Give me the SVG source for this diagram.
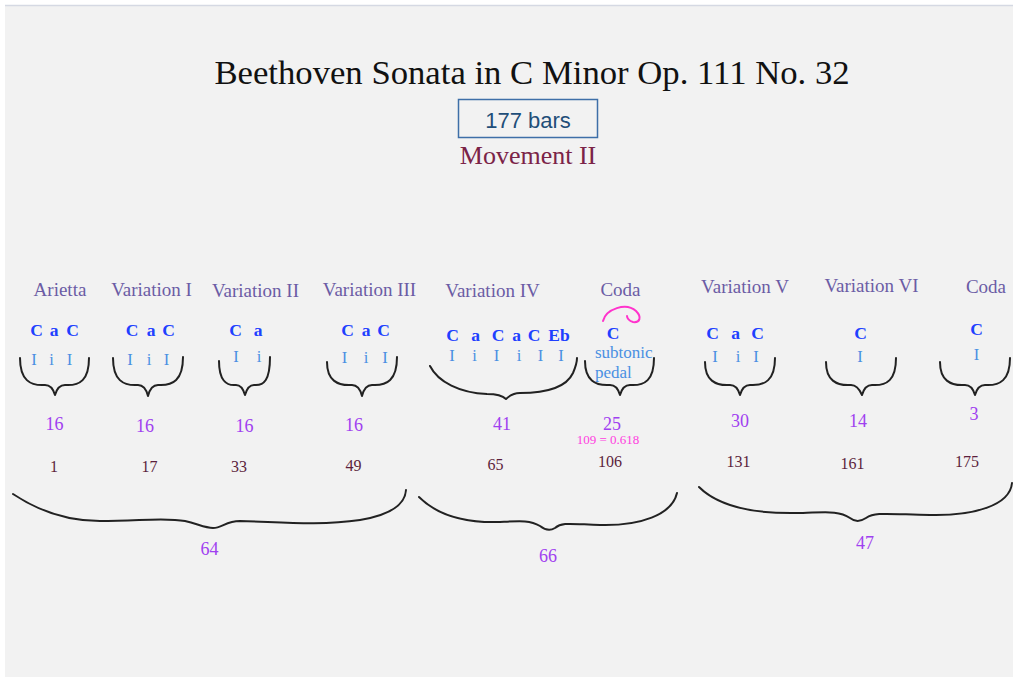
<svg xmlns="http://www.w3.org/2000/svg" width="1016" height="677" viewBox="0 0 1016 677">
<style>
.lbl{font-family:"Liberation Serif",serif;font-size:19px;fill:#6b5ca5;text-anchor:middle}
.ch{font-family:"Liberation Serif",serif;font-size:17.5px;font-weight:bold;fill:#2040ff;text-anchor:middle}
.rn{font-family:"Liberation Serif",serif;font-size:16.5px;fill:#4a90e2;text-anchor:middle}
.len{font-family:"Liberation Serif",serif;font-size:18px;fill:#a040f0;text-anchor:middle}
.bar{font-family:"Liberation Serif",serif;font-size:16px;fill:#5c1f3c;text-anchor:middle}
.br{fill:none;stroke:#222;stroke-width:2;stroke-linecap:round;stroke-linejoin:round}
</style>
<rect x="0" y="0" width="1016" height="677" fill="#ffffff"/>
<rect x="5" y="5" width="1008" height="672" fill="#f2f2f2"/>
<line x1="5" y1="5.5" x2="1013" y2="5.5" stroke="#d5d9e3" stroke-width="1.5"/>

<g id="header">
<text x="532" y="84" font-family="'Liberation Serif',serif" font-size="34.7" fill="#111" text-anchor="middle">Beethoven Sonata in C Minor Op. 111 No. 32</text>
<rect x="458.5" y="99.5" width="139" height="38" fill="none" stroke="#3e6fa8" stroke-width="1.5"/>
<text x="528" y="128" font-family="'Liberation Sans',sans-serif" font-size="22" fill="#1f4e79" text-anchor="middle">177 bars</text>
<text x="528" y="164" font-family="'Liberation Serif',serif" font-size="26" fill="#7b2347" text-anchor="middle">Movement II</text>
</g>

<g id="arietta">
<text class="lbl" x="60" y="296">Arietta</text>
<text class="ch" y="336"><tspan x="36.5">C</tspan><tspan x="54">a</tspan><tspan x="72.5">C</tspan></text>
<text class="rn" y="365"><tspan x="34">I</tspan><tspan x="51.5">i</tspan><tspan x="69.5">I</tspan></text>
<text class="len" x="54.5" y="430">16</text>
<text class="bar" x="54" y="472">1</text>
</g>
<g id="var1">
<text class="lbl" x="151.5" y="296">Variation I</text>
<text class="ch" y="336"><tspan x="132">C</tspan><tspan x="151">a</tspan><tspan x="168.5">C</tspan></text>
<text class="rn" y="365"><tspan x="130">I</tspan><tspan x="149">i</tspan><tspan x="166.5">I</tspan></text>
<text class="len" x="145" y="432">16</text>
<text class="bar" x="149.5" y="472">17</text>
</g>
<g id="var2">
<text class="lbl" x="255.5" y="297">Variation II</text>
<text class="ch" y="336"><tspan x="235.5">C</tspan><tspan x="258">a</tspan></text>
<text class="rn" y="362"><tspan x="236">I</tspan><tspan x="259">i</tspan></text>
<text class="len" x="244.5" y="432">16</text>
<text class="bar" x="239" y="472">33</text>
</g>
<g id="var3">
<text class="lbl" x="369.5" y="296">Variation III</text>
<text class="ch" y="336"><tspan x="347.5">C</tspan><tspan x="366">a</tspan><tspan x="383.5">C</tspan></text>
<text class="rn" y="363"><tspan x="344.5">I</tspan><tspan x="366">i</tspan><tspan x="385">I</tspan></text>
<text class="len" x="354" y="431">16</text>
<text class="bar" x="353.5" y="471">49</text>
</g>
<g id="var4">
<text class="lbl" x="492.5" y="297">Variation IV</text>
<text class="ch" y="341"><tspan x="452.5">C</tspan><tspan x="475.5">a</tspan><tspan x="498">C</tspan><tspan x="516.5">a</tspan><tspan x="534">C</tspan><tspan x="559">Eb</tspan></text>
<text class="rn" y="361"><tspan x="452">I</tspan><tspan x="474.5">i</tspan><tspan x="496.5">I</tspan><tspan x="519">i</tspan><tspan x="540.5">I</tspan><tspan x="561">I</tspan></text>
<text class="len" x="502" y="430">41</text>
<text class="bar" x="495.5" y="470">65</text>
</g>
<g id="coda1">
<text class="lbl" x="620.5" y="296">Coda</text>
<path d="M603 321 C606 309 626 302 636 311 C642 317 640 323 633 322 C629 321 627 318 627 316" fill="none" stroke="#ff33cc" stroke-width="2" stroke-linecap="round"/>
<text class="ch" x="613" y="339">C</text>
<text class="rn" x="595" y="358" style="text-anchor:start;font-size:17px">subtonic</text>
<text class="rn" x="595" y="378" style="text-anchor:start;font-size:17px">pedal</text>
<text class="len" x="612" y="430">25</text>
<text x="608" y="444" font-family="'Liberation Serif',serif" font-size="13" fill="#ff40e0" text-anchor="middle">109 = 0.618</text>
<text class="bar" x="610" y="467">106</text>
</g>
<g id="var5">
<text class="lbl" x="745" y="293">Variation V</text>
<text class="ch" y="339"><tspan x="712.5">C</tspan><tspan x="735.5">a</tspan><tspan x="757.5">C</tspan></text>
<text class="rn" y="362"><tspan x="715">I</tspan><tspan x="738">i</tspan><tspan x="756">I</tspan></text>
<text class="len" x="740" y="427">30</text>
<text class="bar" x="738.5" y="467">131</text>
</g>
<g id="var6">
<text class="lbl" x="871.5" y="292">Variation VI</text>
<text class="ch" x="860.5" y="339">C</text>
<text class="rn" x="860" y="362">I</text>
<text class="len" x="858" y="427">14</text>
<text class="bar" x="852.5" y="469">161</text>
</g>
<g id="coda2">
<text class="lbl" x="986" y="293">Coda</text>
<text class="ch" x="976.5" y="335">C</text>
<text class="rn" x="976.5" y="360">I</text>
<text class="len" x="974" y="420">3</text>
<text class="bar" x="967" y="467">175</text>
</g>

<g id="totals">
<text class="len" x="209.5" y="555">64</text>
<text class="len" x="548" y="562">66</text>
<text class="len" x="865" y="549">47</text>
</g>

<g id="connectors">
<path class="br" d="M20 358 C20 380 30 386 45 385 C50 385 53 388 55 395 C57 388 60 385 65 385 C80 386 89 380 89 358"/>
<path class="br" d="M113 358 C113 380 123 386 138 385 C143 385 146 388 148 396 C150 388 153 385 158 385 C173 386 183 380 183 357"/>
<path class="br" d="M219 361 C219 380 226 386 236 385 C240 385 243 388 245 395 C247 388 250 385 254 385 C264 386 270 380 270 357"/>
<path class="br" d="M327 362 C327 380 337 386 352 385 C357 385 360 388 362 396 C364 388 367 385 372 385 C387 386 397 380 397 357"/>
<path class="br" d="M430 366 C438 382 460 393 487 394 C496 394 502 395 506 399 C510 395 514 393 520 393 C540 393 565 390 573 373 C576 366 577 362 577 358"/>
<path class="br" d="M585 361 C585 380 595 386 610 385 C615 385 618 388 620 395 C622 388 625 385 630 385 C645 386 654 380 654 358"/>
<path class="br" d="M705 362 C705 380 715 386 730 385 C735 385 738 388 740 395 C742 388 745 385 750 385 C765 386 775 380 775 358"/>
<path class="br" d="M826 362 C826 380 836 386 851 385 C856 385 859 388 862 395 C864 388 867 385 872 385 C887 386 896 380 896 358"/>
<path class="br" d="M940 362 C940 380 950 386 965 385 C970 385 973 388 975 395 C977 388 980 385 985 385 C1000 386 1010 380 1010 358"/>
<path class="br" d="M13 494 C40 512 70 521 100 521 C140 521 165 517 185 521 C198 524 205 528 213 528 C222 528 226 521 240 521 C280 522 320 526 360 520 C390 515 405 505 406 490"/>
<path class="br" d="M419 497 C440 518 470 523 500 522 C520 521 530 520 540 526 C545 530 550 531 555 528 C562 522 570 524 600 525 C640 526 672 515 677 493"/>
<path class="br" d="M699 487 C720 508 760 514 800 513 C830 512 840 511 850 518 C855 522 860 522 866 518 C875 512 885 514 930 515 C975 516 1010 505 1012 483"/>
</g>
</svg>
